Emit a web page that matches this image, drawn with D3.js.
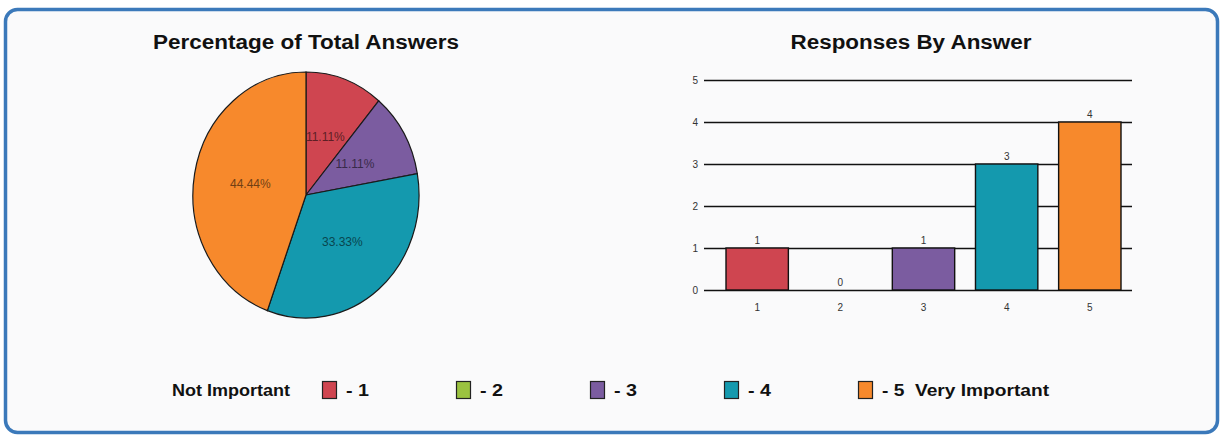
<!DOCTYPE html>
<html>
<head>
<meta charset="utf-8">
<script src="https://cdn.jsdelivr.net/npm/d3@7"></script>
<style>
  html, body { margin: 0; padding: 0; background: #ffffff; }
  svg { display: block; font-family: "Liberation Sans", Arial, sans-serif; }
</style>
</head>
<body>
<svg id="chart" width="1225" height="440"></svg>
<script>
// Survey answers (1 = Not Important ... 5 = Very Important) and their counts
const answers = ["1", "2", "3", "4", "5"];
const counts = [1, 0, 1, 3, 4];
const answerColors = ["#cf4550", "#9bc240", "#7b5ca0", "#1499ae", "#f7892c"];
const yTicks = [0, 1, 2, 3, 4, 5];
const legendLabels = ["- 1", "- 2", "- 3", "- 4", "- 5  Very Important"];
const legendLead = "Not Important";

const svg = d3.select("#chart");

// Panel frame
svg.append("rect")
  .attr("x", 5.5).attr("y", 9.5)
  .attr("width", 1212).attr("height", 423)
  .attr("rx", 12).attr("ry", 12)
  .attr("fill", "#fafafb")
  .attr("stroke", "#3b79ba")
  .attr("stroke-width", 3.5);

function title(text, cx, width) {
  svg.append("text")
    .attr("x", cx).attr("y", 49)
    .attr("text-anchor", "middle")
    .attr("font-size", 20).attr("font-weight", "bold")
    .attr("fill", "#111")
    .attr("textLength", width).attr("lengthAdjust", "spacingAndGlyphs")
    .text(text);
}

// ---------- Pie: percentage of total answers ----------
const total = d3.sum(counts);
const pieData = answers.map((a, i) => ({ answer: a, count: counts[i], color: answerColors[i] }));
const pie = d3.pie().value(d => d.count).sort(null);
const arcs = pie(pieData).filter(d => d.data.count > 0);
const rx = 113, ry = 123;
const arc = d3.arc().innerRadius(0).outerRadius(1);

title("Percentage of Total Answers", 306, 306);

const pieG = svg.append("g").attr("transform", "translate(306,195)");
pieG.append("g")
  .attr("transform", `scale(${rx},${ry})`)
  .selectAll("path")
  .data(arcs)
  .join("path")
  .attr("d", arc)
  .attr("fill", d => d.data.color)
  .attr("stroke", "#1a1a1a")
  .attr("stroke-width", 1.2)
  .attr("vector-effect", "non-scaling-stroke");

const pct = d3.format(".2f");
pieG.selectAll("text.pct")
  .data(arcs)
  .join("text")
  .attr("class", "pct")
  .attr("x", d => arc.centroid(d)[0] * rx)
  .attr("y", d => arc.centroid(d)[1] * ry + 4)
  .attr("text-anchor", "middle")
  .attr("font-size", 12)
  .attr("fill", d => d3.color(d.data.color).darker(2.2))
  .text(d => pct(d.data.count / total * 100) + "%");

// ---------- Bars: responses by answer ----------
title("Responses By Answer", 911, 241);

const x = d3.scaleBand().domain(answers).range([726, 1121]).paddingInner(0.25).paddingOuter(0);
const y = d3.scaleLinear().domain([0, 5]).range([290, 80]);
const gridLeft = 704, gridRight = 1132;

const yAxis = d3.axisLeft(y).tickValues(yTicks).tickFormat(d3.format("d")).tickSize(0).tickPadding(6);
const yG = svg.append("g").attr("transform", `translate(${gridLeft},0)`).call(yAxis);
yG.select(".domain").remove();
yG.selectAll(".tick line")
  .attr("x1", 0).attr("x2", gridRight - gridLeft)
  .attr("stroke", "#111").attr("stroke-width", 1.6);
yG.selectAll(".tick text")
  .attr("font-size", 10).attr("fill", "#333")
  .attr("font-family", "\"Liberation Sans\", Arial, sans-serif");

const xAxis = d3.axisBottom(x).tickSize(0).tickPadding(12);
const xG = svg.append("g").attr("transform", "translate(0,292)").call(xAxis);
xG.select(".domain").remove();
xG.selectAll(".tick text")
  .attr("font-size", 10).attr("fill", "#333")
  .attr("font-family", "\"Liberation Sans\", Arial, sans-serif");

svg.append("g").selectAll("rect")
  .data(pieData)
  .join("rect")
  .attr("x", d => x(d.answer))
  .attr("width", x.bandwidth())
  .attr("y", d => y(d.count))
  .attr("height", d => y(0) - y(d.count))
  .attr("fill", d => d.color)
  .attr("stroke", d => d.count > 0 ? "#111" : "none")
  .attr("stroke-width", 1.4);

svg.append("g").selectAll("text")
  .data(pieData)
  .join("text")
  .attr("x", d => x(d.answer) + x.bandwidth() / 2)
  .attr("y", d => y(d.count) - 4)
  .attr("text-anchor", "middle")
  .attr("font-size", 10).attr("fill", "#333")
  .text(d => d.count);

// ---------- Legend ----------
const legend = svg.append("g").attr("transform", "translate(0,390)");
legend.append("text")
  .attr("x", 172).attr("y", 6)
  .attr("font-size", 16).attr("font-weight", "bold").attr("fill", "#111")
  .attr("textLength", 118).attr("lengthAdjust", "spacingAndGlyphs")
  .text(legendLead);

const legendX = d3.scalePoint().domain(answers).range([322, 858]);
const items = legend.selectAll("g.item")
  .data(pieData)
  .join("g")
  .attr("class", "item")
  .attr("transform", d => `translate(${legendX(d.answer)},0)`);
items.append("rect")
  .attr("x", 0.5).attr("y", -8.5)
  .attr("width", 14).attr("height", 17)
  .attr("fill", d => d.color)
  .attr("stroke", "#222").attr("stroke-width", 1.2);
items.append("text")
  .attr("x", 24).attr("y", 6)
  .attr("font-size", 16).attr("font-weight", "bold").attr("fill", "#111")
  .attr("xml:space", "preserve")
  .style("white-space", "pre")
  .attr("textLength", (d, i) => i === 4 ? 167 : 23)
  .attr("lengthAdjust", "spacingAndGlyphs")
  .text((d, i) => legendLabels[i]);
</script>
</body>
</html>
